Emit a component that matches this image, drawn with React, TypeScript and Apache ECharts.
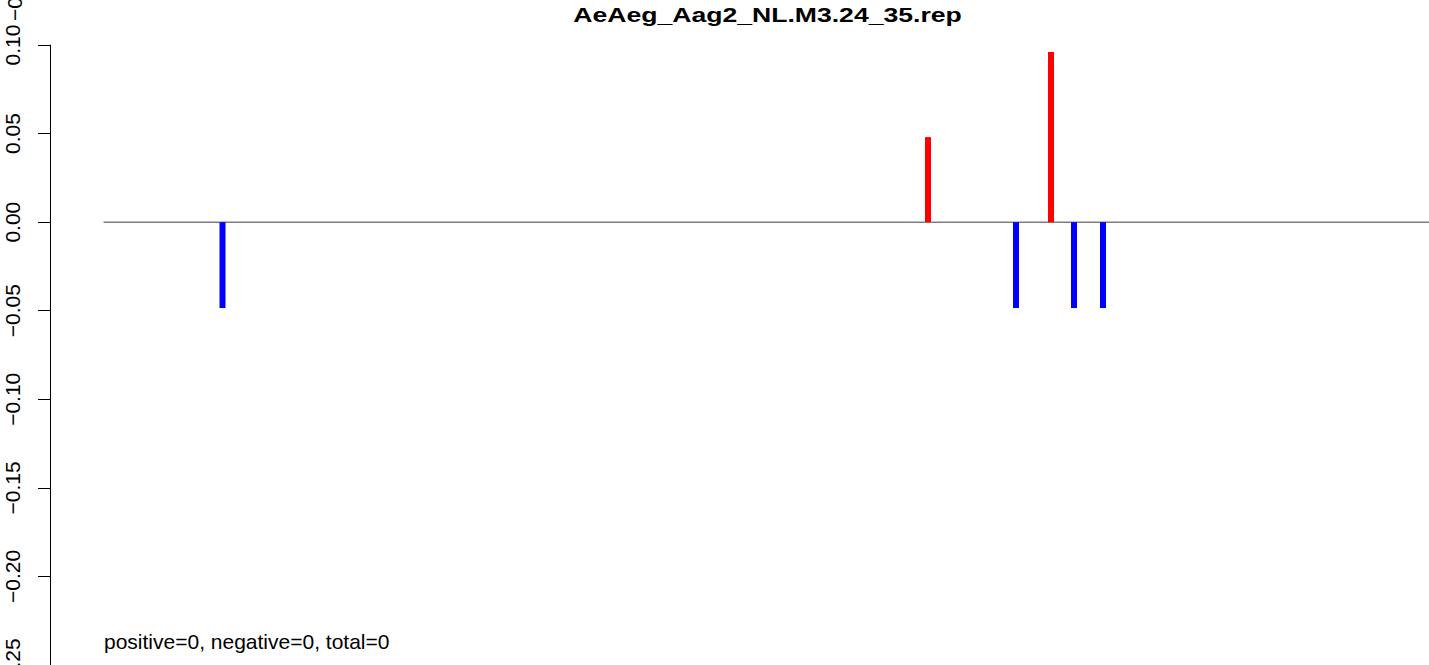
import React, { useEffect, useRef } from "react";
import * as echarts from "echarts";

const chartTitle = "AeAeg_Aag2_NL.M3.24_35.rep";
const footerText = "positive=0, negative=0, total=0";
const posPositions = [878, 1001];
const posValues = [0.048, 0.096];
const negPositions = [172.5, 966, 1024, 1053];
const negValues = [-0.0485, -0.0485, -0.0485, -0.0485];
const lineStart = 53.5;
const lineEnd = 1379;
const yMin = -0.25;
const yMax = 0.1;
const yStep = 0.05;

export default function App() {
  const ref = useRef<HTMLDivElement>(null);
  useEffect(() => {
    if (!ref.current) return;
    const chart = echarts.init(ref.current, null, { renderer: "svg" });
    const font = "'Liberation Sans', Arial, Helvetica, sans-serif";
    chart.setOption({
      animation: false,
      backgroundColor: "#ffffff",
      grid: {
        left: 50,
        right: 0,
        top: 45,
        bottom: 0,
        containLabel: false,
        outerBoundsMode: "none",
      },
      xAxis: {
        type: "value",
        min: 0,
        max: 1379,
        show: false,
      },
      yAxis: {
        type: "value",
        min: yMin,
        max: yMax,
        interval: yStep,
        axisLine: { show: true, lineStyle: { color: "#000", width: 1 } },
        axisTick: { show: true, length: 12, lineStyle: { color: "#000", width: 1 } },
        splitLine: { show: false },
        axisLabel: {
          rotate: 90,
          margin: 27,
          color: "#000",
          fontFamily: font,
          fontSize: 21,
          hideOverlap: false,
          showMinLabel: true,
          showMaxLabel: true,
          formatter: (v: number) => {
            const s = Math.abs(v) < 1e-9 ? "0.00" : v.toFixed(2);
            return s.replace("-", "\u2212");
          },
        },
      },
      series: [
        {
          type: "line",
          data: [
            [lineStart, 0],
            [lineEnd, 0],
          ],
          symbol: "none",
          lineStyle: { color: "#7f7f7f", width: 1.5 },
          z: 1,
          silent: true,
        },
        {
          type: "bar",
          data: posPositions.map((p, i) => [p, posValues[i]]),
          barWidth: 6,
          barGap: "-100%",
          itemStyle: { color: "#ff0000" },
          z: 2,
        },
        {
          type: "bar",
          data: negPositions.map((p, i) => [p, negValues[i]]),
          barWidth: 6,
          barGap: "-100%",
          itemStyle: { color: "#0000ff" },
          z: 2,
        },
      ],
      graphic: [
        {
          type: "text",
          x: 767.5,
          y: 15,
          scaleX: 1.33,
          style: {
            text: chartTitle,
            fontFamily: font,
            fontWeight: "bold",
            fontSize: 20,
            fill: "#000",
            align: "center",
            verticalAlign: "middle",
          },
        },
        {
          type: "text",
          x: 104,
          y: 641,
          style: {
            text: footerText,
            fontFamily: font,
            fontSize: 21,
            fill: "#000",
            align: "left",
            verticalAlign: "middle",
          },
        },
        {
          type: "text",
          x: 14.5,
          y: 21,
          rotation: Math.PI / 2,
          style: {
            text: "\u22120.30",
            fontFamily: font,
            fontSize: 21,
            fill: "#000",
            align: "left",
            verticalAlign: "middle",
          },
        },
      ],
    });
    return () => chart.dispose();
  }, []);
  return (
    <div
      ref={ref}
      style={{ position: "fixed", left: 0, top: 0, width: 1429, height: 665 }}
    />
  );
}
